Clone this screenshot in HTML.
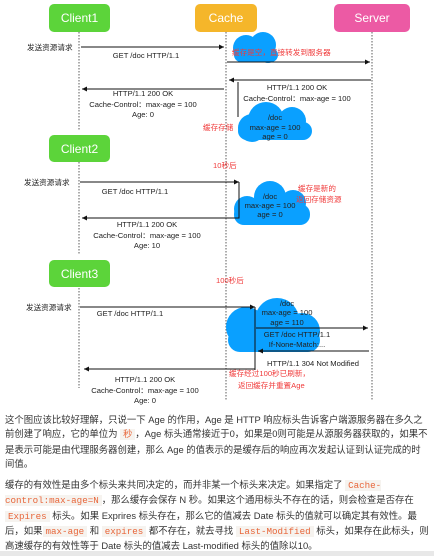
<!DOCTYPE html>
<html><head><meta charset="utf-8"><style>
body{margin:0;width:434px;height:556px;background:#fff;overflow:hidden;position:relative;font-family:"Liberation Sans","Noto Sans CJK SC",sans-serif}
svg{position:absolute;left:0;top:0}
.t{font-size:7.6px;fill:#222}
.r{font-size:7.6px;fill:#f03a3a}
.b{font-size:12px;fill:#fff;font-weight:500}
.p{position:absolute;left:5px;width:424px;font-size:9.4px;line-height:14.3px;color:#333;margin:0}
code{font-family:"Liberation Mono",monospace;color:#e8663a;background:#f6f3ef;padding:0 3px;font-size:9.2px}
</style></head><body>
<svg width="434" height="410" viewBox="0 0 434 410">
<defs><marker id="a" markerWidth="6" markerHeight="6" refX="5" refY="3" orient="auto"><path d="M0,0.5 L5,3 L0,5.5z" fill="#111"/></marker></defs>
<g stroke="#333" stroke-width="0.8" stroke-dasharray="1.5,1.5">
<line x1="79" y1="32" x2="79" y2="130"/><line x1="79" y1="162" x2="79" y2="255"/><line x1="79" y1="288" x2="79" y2="388"/>
<line x1="226" y1="32" x2="226" y2="400"/><line x1="372" y1="32" x2="372" y2="400"/>
</g>
<rect x="49" y="4" width="61" height="28" rx="5" fill="#5cd43a"/><text x="79.5" y="22" class="b" text-anchor="middle">Client1</text>
<rect x="195" y="4" width="62" height="28" rx="5" fill="#f5b62a"/><text x="226" y="22" class="b" text-anchor="middle">Cache</text>
<rect x="334" y="4" width="76" height="28" rx="5" fill="#ec5aa4"/><text x="372" y="22" class="b" text-anchor="middle">Server</text>
<rect x="49" y="135" width="61" height="27" rx="5" fill="#5cd43a"/><text x="79.5" y="153" class="b" text-anchor="middle">Client2</text>
<rect x="49" y="260" width="61" height="27" rx="5" fill="#5cd43a"/><text x="79.5" y="278" class="b" text-anchor="middle">Client3</text>
<g fill="#0aa0ff">
<circle cx="246" cy="48" r="13"/><circle cx="263" cy="45" r="13"/><circle cx="268" cy="54" r="9"/><rect x="234" y="48" width="44" height="14" rx="7"/>
<circle cx="266" cy="120" r="18"/><circle cx="292" cy="121" r="14"/><circle cx="252" cy="128" r="14"/><rect x="238" y="122" width="74" height="18" rx="9"/>
<circle cx="270" cy="197" r="16"/><circle cx="293" cy="203" r="13"/><circle cx="247" cy="209" r="13"/><rect x="234" y="204" width="76" height="21" rx="10"/>
<circle cx="277" cy="320" r="22"/><circle cx="302" cy="331" r="18"/><circle cx="246" cy="327" r="20"/><rect x="228" y="328" width="92" height="24" rx="12"/>
</g>
<g stroke="#111" stroke-width="1" fill="none">
<line x1="81" y1="47" x2="224" y2="47" marker-end="url(#a)"/>
<line x1="227" y1="62" x2="370" y2="62" marker-end="url(#a)"/>
<line x1="371" y1="80" x2="229" y2="80" marker-end="url(#a)"/>
<line x1="238" y1="82" x2="238" y2="117"/>
<line x1="224" y1="89" x2="82" y2="89" marker-end="url(#a)"/>
<line x1="80" y1="182" x2="239" y2="182" marker-end="url(#a)"/>
<polyline points="239,182 239,218 82,218" marker-end="url(#a)"/>
<line x1="80" y1="307" x2="255" y2="307" marker-end="url(#a)"/>
<line x1="255" y1="307" x2="255" y2="370"/>
<line x1="256" y1="328" x2="368" y2="328" marker-end="url(#a)"/>
<line x1="369" y1="351" x2="258" y2="351" marker-end="url(#a)"/>
<line x1="255" y1="369" x2="84" y2="369" marker-end="url(#a)"/>
</g>
<g class="t">
<text x="27" y="50">发送资源请求</text>
<text x="146" y="58" text-anchor="middle">GET /doc  HTTP/1.1</text>
<text x="297" y="90" text-anchor="middle">HTTP/1.1 200 OK</text>
<text x="297" y="101" text-anchor="middle">Cache-Control：max-age = 100</text>
<text x="143" y="96" text-anchor="middle">HTTP/1.1 200 OK</text>
<text x="143" y="107" text-anchor="middle">Cache-Control：max-age = 100</text>
<text x="143" y="117" text-anchor="middle">Age: 0</text>
<text x="275" y="120" text-anchor="middle">/doc</text>
<text x="275" y="130" text-anchor="middle">max-age = 100</text>
<text x="275" y="139" text-anchor="middle">age = 0</text>
<text x="24" y="185">发送资源请求</text>
<text x="135" y="194" text-anchor="middle">GET /doc  HTTP/1.1</text>
<text x="270" y="199" text-anchor="middle">/doc</text>
<text x="270" y="208" text-anchor="middle">max-age = 100</text>
<text x="270" y="217" text-anchor="middle">age = 0</text>
<text x="147" y="227" text-anchor="middle">HTTP/1.1 200 OK</text>
<text x="147" y="238" text-anchor="middle">Cache-Control：max-age = 100</text>
<text x="147" y="248" text-anchor="middle">Age: 10</text>
<text x="26" y="310">发送资源请求</text>
<text x="130" y="316" text-anchor="middle">GET /doc  HTTP/1.1</text>
<text x="287" y="306" text-anchor="middle">/doc</text>
<text x="287" y="315" text-anchor="middle">max-age = 100</text>
<text x="287" y="325" text-anchor="middle">age = 110</text>
<text x="297" y="337" text-anchor="middle">GET /doc  HTTP/1.1</text>
<text x="297" y="347" text-anchor="middle">If-None-Match:...</text>
<text x="313" y="366" text-anchor="middle">HTTP/1.1 304 Not Modified</text>
<text x="145" y="382" text-anchor="middle">HTTP/1.1 200 OK</text>
<text x="145" y="393" text-anchor="middle">Cache-Control：max-age = 100</text>
<text x="145" y="403" text-anchor="middle">Age: 0</text>
</g>
<g class="r">
<text x="232" y="55">缓存是空，直接转发到服务器</text>
<text x="203" y="130">缓存存储</text>
<text x="213" y="168">10秒后</text>
<text x="298" y="191">缓存是新的</text>
<text x="296" y="202">返回存储资源</text>
<text x="216" y="283">100秒后</text>
<text x="229" y="376">缓存经过100秒已刷新，</text>
<text x="238" y="388">返回缓存并重置Age</text>
</g>
</svg>
<p class="p" style="top:413px">这个图应该比较好理解，只说一下 Age 的作用，Age 是 HTTP 响应标头告诉客户端源服务器在多久之前创建了响应，它的单位为 <code>秒</code>，Age 标头通常接近于0，如果是0则可能是从源服务器获取的，如果不是表示可能是由代理服务器创建，那么 Age 的值表示的是缓存后的响应再次发起认证到认证完成的时间值。</p>
<p class="p" style="top:478px">缓存的有效性是由多个标头来共同决定的，而并非某一个标头来决定。如果指定了 <code>Cache-control:max-age=N</code>，那么缓存会保存 N 秒。如果这个通用标头不存在的话，则会检查是否存在 <code>Expires</code> 标头。如果 Exprires 标头存在，那么它的值减去 Date 标头的值就可以确定其有效性。最后，如果<code>max-age</code> 和 <code>expires</code> 都不存在，就去寻找 <code>Last-Modified</code> 标头，如果存在此标头，则高速缓存的有效性等于 Date 标头的值减去 Last-modified 标头的值除以10。</p>
<div style="position:absolute;left:0;top:551px;width:434px;height:5px;background:#e8e8e8"></div>
</body></html>
